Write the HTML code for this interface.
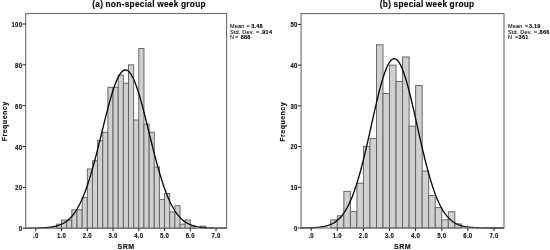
<!DOCTYPE html>
<html><head><meta charset="utf-8"><title>SRM histograms</title>
<style>
html,body{margin:0;padding:0;background:#fff;}
body{width:550px;height:250px;overflow:hidden;}
svg{display:block;filter:grayscale(1);}
text{font-family:"Liberation Sans",Arial,sans-serif;fill:#111;}
.tk text{font-size:6.9px;font-weight:bold;letter-spacing:0.3px;stroke:#111;stroke-width:0.15px;}
.ax{font-size:7.8px;font-weight:bold;letter-spacing:0.5px;stroke:#111;stroke-width:0.15px;}
.tt{font-size:8.3px;font-weight:bold;word-spacing:-0.3px;fill:#000;stroke:#000;stroke-width:0.12px;}
.lg{font-size:5.5px;letter-spacing:0.2px;fill:#000;stroke:#000;stroke-width:0.08px;}
.lg .b{font-weight:bold;letter-spacing:0.25px;stroke:#111;stroke-width:0.12px;}
</style></head><body>
<svg width="550" height="250" viewBox="0 0 550 250">
<rect width="550" height="250" fill="#fff"/>
<g fill="#d0d0d0" stroke="#5c5c5c" stroke-width="0.9">
<rect x="56.40" y="224.12" width="5.15" height="4.08"/>
<rect x="61.55" y="220.03" width="5.15" height="8.17"/>
<rect x="66.70" y="220.03" width="5.15" height="8.17"/>
<rect x="71.85" y="209.82" width="5.15" height="18.38"/>
<rect x="77.00" y="209.82" width="5.15" height="18.38"/>
<rect x="82.15" y="197.57" width="5.15" height="30.63"/>
<rect x="87.30" y="168.98" width="5.15" height="59.22"/>
<rect x="92.45" y="160.81" width="5.15" height="67.39"/>
<rect x="97.60" y="140.39" width="5.15" height="87.81"/>
<rect x="102.75" y="132.23" width="5.15" height="95.97"/>
<rect x="107.90" y="87.30" width="5.15" height="140.90"/>
<rect x="113.05" y="87.30" width="5.15" height="140.90"/>
<rect x="118.20" y="75.05" width="5.15" height="153.15"/>
<rect x="123.35" y="83.22" width="5.15" height="144.98"/>
<rect x="128.50" y="64.84" width="5.15" height="163.36"/>
<rect x="133.65" y="119.97" width="5.15" height="108.23"/>
<rect x="138.80" y="48.50" width="5.15" height="179.70"/>
<rect x="143.95" y="124.06" width="5.15" height="104.14"/>
<rect x="149.10" y="132.23" width="5.15" height="95.97"/>
<rect x="154.25" y="166.94" width="5.15" height="61.26"/>
<rect x="159.40" y="199.61" width="5.15" height="28.59"/>
<rect x="164.55" y="193.49" width="5.15" height="34.71"/>
<rect x="169.70" y="211.86" width="5.15" height="16.34"/>
<rect x="174.85" y="205.74" width="5.15" height="22.46"/>
<rect x="180.00" y="224.12" width="5.15" height="4.08"/>
<rect x="185.15" y="220.03" width="5.15" height="8.17"/>
<rect x="190.30" y="226.16" width="5.15" height="2.04"/>
<rect x="200.60" y="226.16" width="5.15" height="2.04"/>
</g>
<polyline fill="none" stroke="#0a0a0a" stroke-width="1.35" points="25.70,228.18 26.37,228.18 27.04,228.17 27.71,228.17 28.38,228.17 29.05,228.16 29.72,228.16 30.39,228.15 31.06,228.15 31.73,228.14 32.40,228.14 33.07,228.13 33.74,228.12 34.41,228.11 35.08,228.10 35.75,228.09 36.41,228.08 37.08,228.06 37.75,228.05 38.42,228.03 39.09,228.01 39.76,227.99 40.43,227.97 41.10,227.94 41.77,227.91 42.44,227.88 43.11,227.85 43.78,227.81 44.45,227.77 45.12,227.73 45.79,227.68 46.46,227.63 47.13,227.57 47.80,227.51 48.47,227.44 49.14,227.37 49.81,227.29 50.48,227.20 51.15,227.11 51.82,227.01 52.49,226.90 53.16,226.78 53.83,226.65 54.50,226.51 55.17,226.36 55.84,226.20 56.50,226.02 57.17,225.83 57.84,225.63 58.51,225.41 59.18,225.18 59.85,224.93 60.52,224.66 61.19,224.37 61.86,224.07 62.53,223.74 63.20,223.39 63.87,223.01 64.54,222.62 65.21,222.19 65.88,221.74 66.55,221.26 67.22,220.75 67.89,220.21 68.56,219.64 69.23,219.04 69.90,218.40 70.57,217.72 71.24,217.01 71.91,216.25 72.58,215.46 73.25,214.62 73.92,213.75 74.59,212.82 75.26,211.86 75.92,210.84 76.59,209.78 77.26,208.67 77.93,207.51 78.60,206.29 79.27,205.03 79.94,203.71 80.61,202.33 81.28,200.90 81.95,199.42 82.62,197.88 83.29,196.28 83.96,194.63 84.63,192.92 85.30,191.15 85.97,189.32 86.64,187.44 87.31,185.50 87.98,183.51 88.65,181.46 89.32,179.36 89.99,177.20 90.66,174.99 91.33,172.73 92.00,170.42 92.67,168.06 93.34,165.66 94.01,163.21 94.68,160.72 95.35,158.20 96.02,155.63 96.68,153.04 97.35,150.41 98.02,147.76 98.69,145.09 99.36,142.40 100.03,139.69 100.70,136.97 101.37,134.24 102.04,131.51 102.71,128.78 103.38,126.05 104.05,123.34 104.72,120.64 105.39,117.96 106.06,115.30 106.73,112.68 107.40,110.09 108.07,107.54 108.74,105.03 109.41,102.57 110.08,100.17 110.75,97.83 111.42,95.55 112.09,93.34 112.76,91.21 113.43,89.15 114.10,87.18 114.77,85.30 115.44,83.50 116.11,81.81 116.77,80.21 117.44,78.72 118.11,77.33 118.78,76.06 119.45,74.90 120.12,73.85 120.79,72.92 121.46,72.12 122.13,71.43 122.80,70.88 123.47,70.44 124.14,70.14 124.81,69.96 125.48,69.91 126.15,69.98 126.82,70.19 127.49,70.52 128.16,70.98 128.83,71.57 129.50,72.28 130.17,73.11 130.84,74.06 131.51,75.13 132.18,76.32 132.85,77.61 133.52,79.02 134.19,80.54 134.86,82.16 135.53,83.87 136.19,85.68 136.86,87.59 137.53,89.58 138.20,91.65 138.87,93.80 139.54,96.02 140.21,98.31 140.88,100.67 141.55,103.08 142.22,105.55 142.89,108.07 143.56,110.63 144.23,113.23 144.90,115.86 145.57,118.52 146.24,121.20 146.91,123.91 147.58,126.62 148.25,129.35 148.92,132.08 149.59,134.81 150.26,137.54 150.93,140.26 151.60,142.96 152.27,145.65 152.94,148.32 153.61,150.97 154.28,153.59 154.95,156.18 155.62,158.73 156.29,161.25 156.95,163.73 157.62,166.16 158.29,168.56 158.96,170.91 159.63,173.21 160.30,175.46 160.97,177.66 161.64,179.80 162.31,181.90 162.98,183.93 163.65,185.92 164.32,187.84 164.99,189.71 165.66,191.53 166.33,193.28 167.00,194.98 167.67,196.62 168.34,198.21 169.01,199.74 169.68,201.21 170.35,202.63 171.02,203.99 171.69,205.30 172.36,206.55 173.03,207.75 173.70,208.91 174.37,210.01 175.04,211.06 175.71,212.06 176.38,213.02 177.04,213.93 177.71,214.80 178.38,215.63 179.05,216.41 179.72,217.16 180.39,217.86 181.06,218.53 181.73,219.17 182.40,219.76 183.07,220.33 183.74,220.86 184.41,221.36 185.08,221.84 185.75,222.28 186.42,222.70 187.09,223.09 187.76,223.46 188.43,223.81 189.10,224.13 189.77,224.44 190.44,224.72 191.11,224.98 191.78,225.23 192.45,225.46 193.12,225.67 193.79,225.87 194.46,226.06 195.13,226.23 195.80,226.39 196.47,226.54 197.13,226.68 197.80,226.80 198.47,226.92 199.14,227.03 199.81,227.13 200.48,227.22 201.15,227.31 201.82,227.39 202.49,227.46 203.16,227.52 203.83,227.59 204.50,227.64 205.17,227.69 205.84,227.74 206.51,227.78 207.18,227.82 207.85,227.86 208.52,227.89 209.19,227.92 209.86,227.95 210.53,227.97 211.20,227.99 211.87,228.01 212.54,228.03 213.21,228.05 213.88,228.06 214.55,228.08 215.22,228.09 215.89,228.10 216.56,228.11 217.22,228.12 217.89,228.13 218.56,228.14 219.23,228.14 219.90,228.15 220.57,228.16 221.24,228.16 221.91,228.16 222.58,228.17 223.25,228.17 223.92,228.18 224.59,228.18 225.26,228.18 225.93,228.18 226.60,228.18"/>
<rect x="25.70" y="13.50" width="200.90" height="214.70" fill="none" stroke="#727272" stroke-width="1.15"/>
<g stroke="#222" stroke-width="1">
<line x1="35.80" y1="228.20" x2="35.80" y2="231.20"/>
<line x1="61.55" y1="228.20" x2="61.55" y2="231.20"/>
<line x1="87.30" y1="228.20" x2="87.30" y2="231.20"/>
<line x1="113.05" y1="228.20" x2="113.05" y2="231.20"/>
<line x1="138.80" y1="228.20" x2="138.80" y2="231.20"/>
<line x1="164.55" y1="228.20" x2="164.55" y2="231.20"/>
<line x1="190.30" y1="228.20" x2="190.30" y2="231.20"/>
<line x1="216.05" y1="228.20" x2="216.05" y2="231.20"/>
<line x1="22.50" y1="228.20" x2="25.70" y2="228.20"/>
<line x1="22.50" y1="187.36" x2="25.70" y2="187.36"/>
<line x1="22.50" y1="146.52" x2="25.70" y2="146.52"/>
<line x1="22.50" y1="105.68" x2="25.70" y2="105.68"/>
<line x1="22.50" y1="64.84" x2="25.70" y2="64.84"/>
<line x1="22.50" y1="24.00" x2="25.70" y2="24.00"/>
</g>
<g class="tk">
<text transform="translate(35.80,238.00) scale(0.87,1)" text-anchor="middle">.0</text>
<text transform="translate(61.55,238.00) scale(0.87,1)" text-anchor="middle">1.0</text>
<text transform="translate(87.30,238.00) scale(0.87,1)" text-anchor="middle">2.0</text>
<text transform="translate(113.05,238.00) scale(0.87,1)" text-anchor="middle">3.0</text>
<text transform="translate(138.80,238.00) scale(0.87,1)" text-anchor="middle">4.0</text>
<text transform="translate(164.55,238.00) scale(0.87,1)" text-anchor="middle">5.0</text>
<text transform="translate(190.30,238.00) scale(0.87,1)" text-anchor="middle">6.0</text>
<text transform="translate(216.05,238.00) scale(0.87,1)" text-anchor="middle">7.0</text>
<text transform="translate(22.30,231.30) scale(0.87,1)" text-anchor="end">0</text>
<text transform="translate(22.30,190.46) scale(0.87,1)" text-anchor="end">20</text>
<text transform="translate(22.30,149.62) scale(0.87,1)" text-anchor="end">40</text>
<text transform="translate(22.30,108.78) scale(0.87,1)" text-anchor="end">60</text>
<text transform="translate(22.30,67.94) scale(0.87,1)" text-anchor="end">80</text>
<text transform="translate(22.30,27.10) scale(0.87,1)" text-anchor="end">100</text>
</g>
<text class="ax" transform="translate(126.15,249.4) scale(0.91,1)" text-anchor="middle">SRM</text>
<text class="ax" transform="translate(7.30,121.35) rotate(-90) scale(0.91,1)" text-anchor="middle">Frequency</text>
<text class="tt" x="92.20" y="6.9" textLength="113.4" lengthAdjust="spacing">(a) non-special week group</text>
<text class="lg" y="28.30"><tspan x="230.00">Mean</tspan><tspan x="246.60">=</tspan><tspan class="b" x="251.20">3.48</tspan></text>
<text class="lg" y="33.70"><tspan x="230.00">Std. Dev.</tspan><tspan x="256.00">=</tspan><tspan class="b" x="260.50">.914</tspan></text>
<text class="lg" y="39.10"><tspan x="230.00">N</tspan><tspan x="234.90">=</tspan><tspan class="b" x="240.70">888</tspan></text>
<g fill="#d0d0d0" stroke="#5c5c5c" stroke-width="0.9">
<rect x="330.78" y="219.86" width="6.53" height="8.14"/>
<rect x="337.31" y="215.78" width="6.53" height="12.22"/>
<rect x="343.84" y="191.35" width="6.53" height="36.65"/>
<rect x="350.37" y="211.71" width="6.53" height="16.29"/>
<rect x="356.89" y="183.21" width="6.53" height="44.79"/>
<rect x="363.42" y="146.56" width="6.53" height="81.44"/>
<rect x="369.95" y="138.42" width="6.53" height="89.58"/>
<rect x="376.48" y="44.76" width="6.53" height="183.24"/>
<rect x="383.00" y="93.62" width="6.53" height="134.38"/>
<rect x="389.53" y="65.12" width="6.53" height="162.88"/>
<rect x="396.06" y="81.41" width="6.53" height="146.59"/>
<rect x="402.58" y="56.98" width="6.53" height="171.02"/>
<rect x="409.11" y="126.20" width="6.53" height="101.80"/>
<rect x="415.64" y="85.48" width="6.53" height="142.52"/>
<rect x="422.17" y="170.99" width="6.53" height="57.01"/>
<rect x="428.69" y="195.42" width="6.53" height="32.58"/>
<rect x="435.22" y="207.64" width="6.53" height="20.36"/>
<rect x="441.75" y="219.86" width="6.53" height="8.14"/>
<rect x="448.28" y="211.71" width="6.53" height="16.29"/>
<rect x="454.80" y="223.93" width="6.53" height="4.07"/>
</g>
<polyline fill="none" stroke="#0a0a0a" stroke-width="1.35" points="301.10,227.96 301.78,227.95 302.45,227.95 303.13,227.94 303.81,227.93 304.48,227.92 305.16,227.91 305.83,227.90 306.51,227.89 307.19,227.88 307.86,227.86 308.54,227.85 309.22,227.83 309.89,227.81 310.57,227.79 311.25,227.77 311.92,227.74 312.60,227.71 313.27,227.68 313.95,227.64 314.63,227.60 315.30,227.56 315.98,227.51 316.66,227.46 317.33,227.41 318.01,227.34 318.68,227.28 319.36,227.20 320.04,227.12 320.71,227.03 321.39,226.94 322.07,226.83 322.74,226.72 323.42,226.60 324.10,226.46 324.77,226.32 325.45,226.16 326.12,225.99 326.80,225.81 327.48,225.61 328.15,225.39 328.83,225.16 329.51,224.91 330.18,224.64 330.86,224.35 331.54,224.05 332.21,223.71 332.89,223.36 333.56,222.98 334.24,222.57 334.92,222.13 335.59,221.67 336.27,221.17 336.95,220.65 337.62,220.08 338.30,219.49 338.97,218.85 339.65,218.18 340.33,217.46 341.00,216.71 341.68,215.91 342.36,215.07 343.03,214.18 343.71,213.24 344.39,212.25 345.06,211.20 345.74,210.11 346.41,208.96 347.09,207.76 347.77,206.49 348.44,205.17 349.12,203.79 349.80,202.35 350.47,200.84 351.15,199.27 351.83,197.64 352.50,195.95 353.18,194.18 353.85,192.36 354.53,190.46 355.21,188.50 355.88,186.48 356.56,184.39 357.24,182.23 357.91,180.01 358.59,177.72 359.26,175.38 359.94,172.97 360.62,170.50 361.29,167.97 361.97,165.39 362.65,162.75 363.32,160.06 364.00,157.32 364.68,154.53 365.35,151.71 366.03,148.84 366.70,145.93 367.38,143.00 368.06,140.03 368.73,137.05 369.41,134.04 370.09,131.02 370.76,127.99 371.44,124.95 372.12,121.92 372.79,118.89 373.47,115.87 374.14,112.87 374.82,109.89 375.50,106.94 376.17,104.03 376.85,101.16 377.53,98.33 378.20,95.56 378.88,92.85 379.55,90.20 380.23,87.62 380.91,85.12 381.58,82.70 382.26,80.37 382.94,78.13 383.61,76.00 384.29,73.96 384.97,72.04 385.64,70.23 386.32,68.54 386.99,66.97 387.67,65.52 388.35,64.21 389.02,63.03 389.70,61.99 390.38,61.09 391.05,60.33 391.73,59.71 392.41,59.24 393.08,58.92 393.76,58.74 394.43,58.71 395.11,58.83 395.79,59.10 396.46,59.51 397.14,60.07 397.82,60.77 398.49,61.62 399.17,62.60 399.84,63.73 400.52,64.99 401.20,66.38 401.87,67.90 402.55,69.54 403.23,71.31 403.90,73.19 404.58,75.18 405.26,77.27 405.93,79.47 406.61,81.77 407.28,84.15 407.96,86.62 408.64,89.17 409.31,91.79 409.99,94.48 410.67,97.23 411.34,100.03 412.02,102.89 412.70,105.79 413.37,108.72 414.05,111.69 414.72,114.68 415.40,117.69 416.08,120.72 416.75,123.75 417.43,126.79 418.11,129.82 418.78,132.84 419.46,135.86 420.13,138.85 420.81,141.83 421.49,144.78 422.16,147.69 422.84,150.57 423.52,153.42 424.19,156.22 424.87,158.98 425.55,161.69 426.22,164.35 426.90,166.95 427.57,169.50 428.25,172.00 428.93,174.43 429.60,176.80 430.28,179.11 430.96,181.36 431.63,183.54 432.31,185.66 432.99,187.71 433.66,189.69 434.34,191.61 435.01,193.47 435.69,195.26 436.37,196.98 437.04,198.64 437.72,200.23 438.40,201.76 439.07,203.23 439.75,204.63 440.42,205.98 441.10,207.26 441.78,208.49 442.45,209.66 443.13,210.78 443.81,211.84 444.48,212.85 445.16,213.81 445.84,214.72 446.51,215.58 447.19,216.40 447.86,217.17 448.54,217.90 449.22,218.59 449.89,219.24 450.57,219.85 451.25,220.43 451.92,220.97 452.60,221.48 453.28,221.95 453.95,222.40 454.63,222.82 455.30,223.21 455.98,223.58 456.66,223.92 457.33,224.23 458.01,224.53 458.69,224.81 459.36,225.06 460.04,225.30 460.71,225.52 461.39,225.73 462.07,225.92 462.74,226.09 463.42,226.26 464.10,226.41 464.77,226.54 465.45,226.67 466.13,226.79 466.80,226.90 467.48,227.00 468.15,227.09 468.83,227.17 469.51,227.25 470.18,227.32 470.86,227.38 471.54,227.44 472.21,227.49 472.89,227.54 473.57,227.59 474.24,227.63 474.92,227.66 475.59,227.70 476.27,227.73 476.95,227.76 477.62,227.78 478.30,227.80 478.98,227.82 479.65,227.84 480.33,227.86 481.00,227.87 481.68,227.89 482.36,227.90 483.03,227.91 483.71,227.92 484.39,227.93 485.06,227.94 485.74,227.94 486.42,227.95 487.09,227.96 487.77,227.96 488.44,227.96 489.12,227.97 489.80,227.97 490.47,227.98 491.15,227.98 491.83,227.98 492.50,227.98 493.18,227.99 493.86,227.99 494.53,227.99 495.21,227.99 495.88,227.99 496.56,227.99 497.24,227.99 497.91,227.99 498.59,227.99 499.27,228.00 499.94,228.00 500.62,228.00 501.29,228.00 501.97,228.00 502.65,228.00 503.32,228.00 504.00,228.00"/>
<rect x="301.10" y="13.60" width="202.90" height="214.40" fill="none" stroke="#727272" stroke-width="1.15"/>
<g stroke="#222" stroke-width="1">
<line x1="311.20" y1="228.00" x2="311.20" y2="231.00"/>
<line x1="337.31" y1="228.00" x2="337.31" y2="231.00"/>
<line x1="363.42" y1="228.00" x2="363.42" y2="231.00"/>
<line x1="389.53" y1="228.00" x2="389.53" y2="231.00"/>
<line x1="415.64" y1="228.00" x2="415.64" y2="231.00"/>
<line x1="441.75" y1="228.00" x2="441.75" y2="231.00"/>
<line x1="467.86" y1="228.00" x2="467.86" y2="231.00"/>
<line x1="493.97" y1="228.00" x2="493.97" y2="231.00"/>
<line x1="297.90" y1="228.00" x2="301.10" y2="228.00"/>
<line x1="297.90" y1="187.28" x2="301.10" y2="187.28"/>
<line x1="297.90" y1="146.56" x2="301.10" y2="146.56"/>
<line x1="297.90" y1="105.84" x2="301.10" y2="105.84"/>
<line x1="297.90" y1="65.12" x2="301.10" y2="65.12"/>
<line x1="297.90" y1="24.40" x2="301.10" y2="24.40"/>
</g>
<g class="tk">
<text transform="translate(311.20,237.80) scale(0.87,1)" text-anchor="middle">.0</text>
<text transform="translate(337.31,237.80) scale(0.87,1)" text-anchor="middle">1.0</text>
<text transform="translate(363.42,237.80) scale(0.87,1)" text-anchor="middle">2.0</text>
<text transform="translate(389.53,237.80) scale(0.87,1)" text-anchor="middle">3.0</text>
<text transform="translate(415.64,237.80) scale(0.87,1)" text-anchor="middle">4.0</text>
<text transform="translate(441.75,237.80) scale(0.87,1)" text-anchor="middle">5.0</text>
<text transform="translate(467.86,237.80) scale(0.87,1)" text-anchor="middle">6.0</text>
<text transform="translate(493.97,237.80) scale(0.87,1)" text-anchor="middle">7.0</text>
<text transform="translate(297.70,230.80) scale(0.87,1)" text-anchor="end">0</text>
<text transform="translate(297.70,190.08) scale(0.87,1)" text-anchor="end">10</text>
<text transform="translate(297.70,149.36) scale(0.87,1)" text-anchor="end">20</text>
<text transform="translate(297.70,108.64) scale(0.87,1)" text-anchor="end">30</text>
<text transform="translate(297.70,67.92) scale(0.87,1)" text-anchor="end">40</text>
<text transform="translate(297.70,27.20) scale(0.87,1)" text-anchor="end">50</text>
</g>
<text class="ax" transform="translate(402.55,249.4) scale(0.91,1)" text-anchor="middle">SRM</text>
<text class="ax" transform="translate(285.10,121.80) rotate(-90) scale(0.91,1)" text-anchor="middle">Frequency</text>
<text class="tt" x="379.80" y="6.9" textLength="94.4" lengthAdjust="spacing">(b) special week group</text>
<text class="lg" y="28.30"><tspan x="508.00">Mean</tspan><tspan x="524.90">=</tspan><tspan class="b" x="528.90">3.19</tspan></text>
<text class="lg" y="33.70"><tspan x="508.00">Std. Dev.</tspan><tspan x="534.10">=</tspan><tspan class="b" x="537.80">.866</tspan></text>
<text class="lg" y="39.10"><tspan x="508.00">N</tspan><tspan x="514.90">=</tspan><tspan class="b" x="518.60">361</tspan></text>
</svg>
</body></html>
